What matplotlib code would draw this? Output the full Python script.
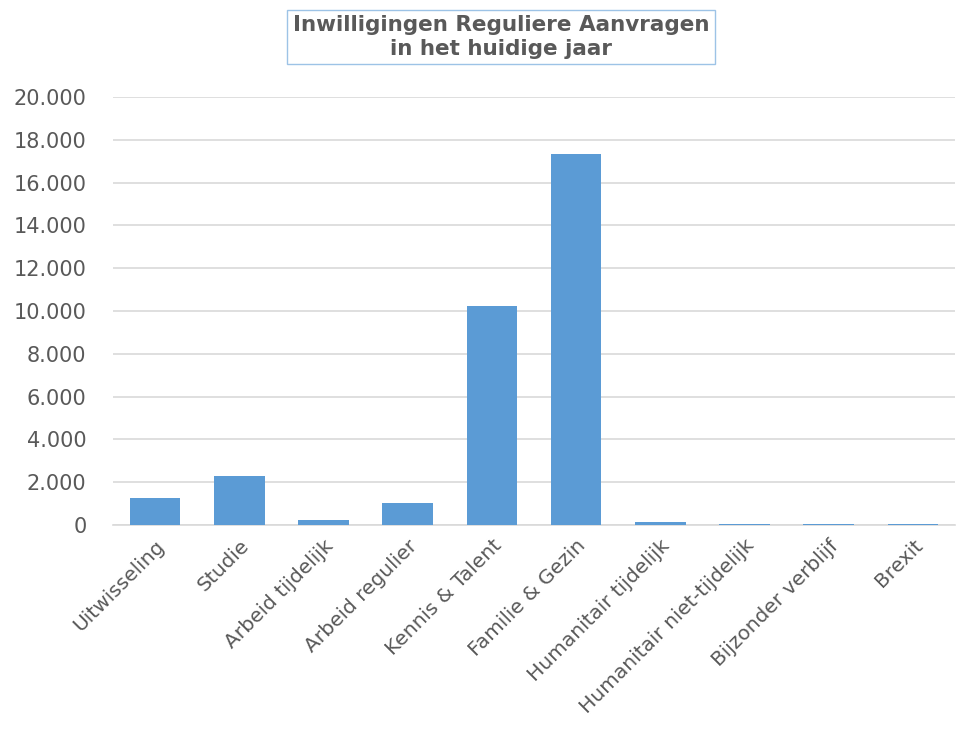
import matplotlib.pyplot as plt
from matplotlib.ticker import FuncFormatter

categories = ["Uitwisseling", "Studie", "Arbeid tijdelijk", "Arbeid regulier",
              "Kennis & Talent", "Familie & Gezin", "Humanitair tijdelijk",
              "Humanitair niet-tijdelijk", "Bijzonder verblijf", "Brexit"]
values = [1250, 2300, 230, 1040, 10230, 17350, 130, 40, 50, 30]
yticks = [0, 2000, 4000, 6000, 8000, 10000, 12000, 14000, 16000, 18000, 20000]

grey = "#595959"
fig = plt.figure(figsize=(9.62, 7.37), dpi=100)
ax = fig.add_axes([113 / 962, 1 - 525 / 737, (955 - 113) / 962, (525 - 97) / 737])

x = range(len(categories))
ax.bar(x, values, width=0.6, color="#5b9bd5", zorder=3)
ax.set_xlim(-0.5, len(categories) - 0.5)
ax.set_ylim(0, 20000)
ax.set_yticks(yticks)
ax.yaxis.set_major_formatter(FuncFormatter(lambda v, p: f"{int(v):,}".replace(",", ".")))
ax.grid(axis="y", color="#d9d9d9", linewidth=1.2, zorder=0)
ax.set_xticks(list(x))
ax.set_xticklabels(categories, rotation=45, ha="right", rotation_mode="anchor")
ax.tick_params(axis="x", length=0, labelsize=14.5, colors=grey, pad=8)
ax.tick_params(axis="y", length=0, labelsize=15, colors=grey, pad=19)
for s in ["top", "right", "left"]:
    ax.spines[s].set_visible(False)
ax.spines["bottom"].set_color("#d9d9d9")
ax.spines["bottom"].set_linewidth(1.2)

fig.text(501 / 962, 1 - 37 / 737, "Inwilligingen Reguliere Aanvragen\nin het huidige jaar",
         ha="center", va="center", fontsize=15.5, fontweight="bold", color=grey,
         linespacing=1.25,
         bbox=dict(boxstyle="square,pad=0.25", fc="white", ec="#9dc3e6", lw=1))

fig.savefig("out.png", dpi=100)
